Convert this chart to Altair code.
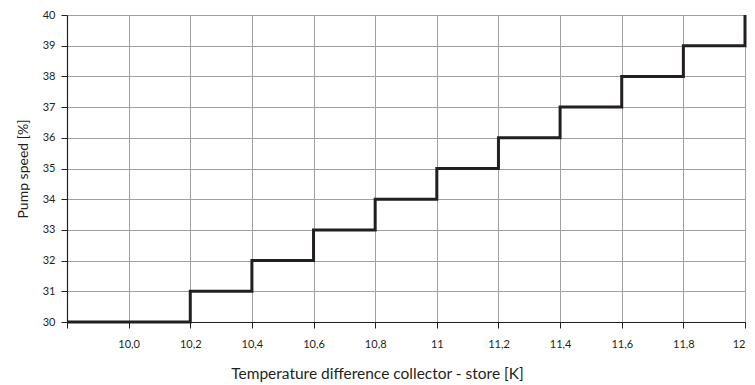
import altair as alt
import pandas as pd

# Step breakpoints (x in K) and pump speed values (%)
step_x = [9.8, 10.2, 10.4, 10.6, 10.8, 11.0, 11.2, 11.4, 11.6, 11.8, 12.0]
step_y = [30, 31, 32, 33, 34, 35, 36, 37, 38, 39, 40]

x_ticks = [9.8, 10.0, 10.2, 10.4, 10.6, 10.8, 11.0, 11.2, 11.4, 11.6, 11.8, 12.0]
x_labels = ["", "10,0", "10,2", "10,4", "10,6", "10,8", "11", "11,2", "11,4", "11,6", "11,8", "12"]
y_ticks = [30, 31, 32, 33, 34, 35, 36, 37, 38, 39, 40]

df = pd.DataFrame({"x": step_x, "y": step_y})

label_arr = "[" + ",".join("'" + s + "'" for s in x_labels) + "]"
label_expr = f"{label_arr}[round((datum.value - 9.8) * 5)]"

FONT = "Lato"

chart = alt.Chart(df).mark_line(
    interpolate="step-after", color="#231f20", strokeWidth=3
).encode(
    x=alt.X("x:Q",
            scale=alt.Scale(domain=[9.8, 12.0], nice=False, zero=False),
            axis=alt.Axis(values=x_ticks, labelExpr=label_expr,
                          title="Temperature difference collector - store [K]",
                          titlePadding=17, labelPadding=10, titleX=310)),
    y=alt.Y("y:Q",
            scale=alt.Scale(domain=[30, 40], nice=False, zero=False),
            axis=alt.Axis(values=y_ticks, title="Pump speed [%]",
                          titlePadding=12, labelPadding=6, titleFontSize=14)),
).properties(
    width=678, height=307,
    autosize=alt.AutoSizeParams(type="none"),
    padding={"left": 59, "top": 7, "right": 2, "bottom": 62},
).configure_view(
    stroke=None
).configure_axis(
    labelFont=FONT, titleFont=FONT, labelFontSize=11, titleFontSize=15.5,
    titleFontWeight="normal", labelColor="#231f20", titleColor="#231f20",
    gridColor="#a0a0a0", gridWidth=1, gridOpacity=1,
    domainColor="#231f20", domainWidth=1.2,
    tickColor="#231f20", tickSize=6,
).configure_axisX(
    labelAngle=0
)

chart.save("out.html", embed_options={"renderer": "svg", "actions": False})
